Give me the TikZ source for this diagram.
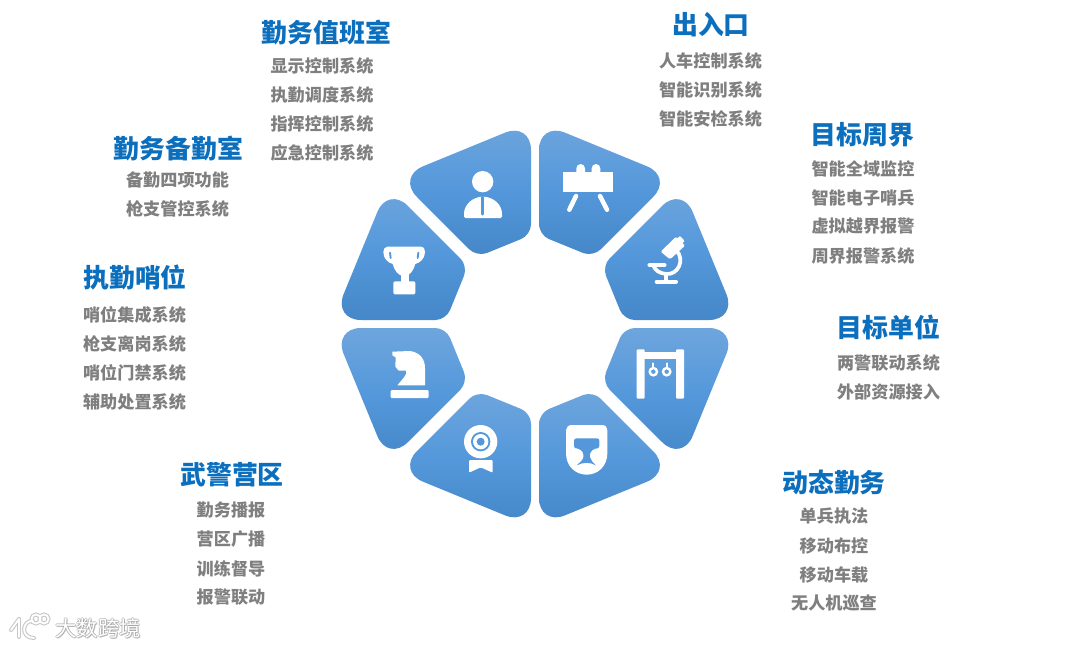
\documentclass[tikz,border=0pt]{standalone}
\usepackage{fontspec}
\usepackage{xcolor}
\setmainfont{Noto Sans CJK SC}
\usetikzlibrary{positioning,calc}
\definecolor{titleblue}{HTML}{0B6FBE}
\definecolor{itemgray}{HTML}{7F7F7F}
\definecolor{paneltop}{HTML}{6EA5DD}
\definecolor{panelmid}{HTML}{5498DB}
\definecolor{panelbot}{HTML}{4587C8}
\tikzset{
  grouptitle/.style={font=\fontsize{19.4pt}{22pt}\selectfont\bfseries, text=titleblue, inner sep=0pt},
  groupitem/.style={font=\fontsize{12.85pt}{15pt}\selectfont\bfseries, text=itemgray, inner sep=0pt},
  panelfill/.style={top color=paneltop, bottom color=panelbot, middle color=panelmid},
  iconpart/.style={fill=white, draw=none},
  iconcut/.style={fill=panelmid, draw=none},
  iconline/.style={draw=white, line cap=round, line width=3.4pt},
  zoomed/.style={x=0.25pt, y=-0.25pt},
  markfaint/.style={font=\fontsize{16pt}{18pt}\selectfont, text=black!40, inner sep=0pt, opacity=0.5},
  markfront/.style={font=\fontsize{16pt}{18pt}\selectfont, text=white, inner sep=0pt},
}
\begin{document}
\begin{tikzpicture}[x=0.75pt, y=-0.75pt]
  \useasboundingbox (0,0) rectangle (1080,647);
  \fill[white] (0,0) rectangle (1080,647);
  % eight panels round the middle
  \foreach \sx/\sy in {-1/-1, 1/-1, -1/1, 1/1} {
    \shade[panelfill] ({535+\sx*71},{324+\sy*174.5}) [rounded corners=21pt] -- ({535+\sx*4},{324+\sy*202})
      [rounded corners=8pt] -- ({535+\sx*4},{324+\sy*89}) -- ({535+\sx*58},{324+\sy*67})
      [rounded corners=21pt] -- ({535+\sx*138},{324+\sy*147}) -- cycle;
    \shade[panelfill] ({535+\sx*174.5},{324+\sy*71}) [rounded corners=21pt] -- ({535+\sx*202},{324+\sy*4})
      [rounded corners=8pt] -- ({535+\sx*89},{324+\sy*4}) -- ({535+\sx*67},{324+\sy*58})
      [rounded corners=21pt] -- ({535+\sx*147},{324+\sy*138}) -- cycle;
  }
  % person
  \begin{scope}[shift={(330,120)}, zoomed]
    \fill[iconpart] (458,185) circle (32);
    \fill[iconpart, rounded corners=1pt] (402,294) -- (402,285) arc (180:360:57 and 55) -- (516,294) -- cycle;
    \draw[panelmid, line width=2.4pt, line cap=round] (458,232) -- (458,282);
  \end{scope}
  % easel
  \begin{scope}[shift={(530,120)}, zoomed]
    \fill[iconpart] (139,160) -- (139,145) arc (180:360:13) -- (165,160) -- cycle;
    \fill[iconpart] (185,160) -- (185,145) arc (180:360:13) -- (211,160) -- cycle;
    \fill[iconpart] (100,155) rectangle (248,215);
    \draw[iconline] (138,228) -- (118,269);
    \draw[iconline] (210,228) -- (231,269);
  \end{scope}
  % microscope
  \begin{scope}[shift={(530,120)}, zoomed]
    \draw[iconline, line width=3pt] (380,485) -- (438,485);
    \draw[iconline, line width=2.4pt, line cap=butt] (408,485) -- (408,458);
    \draw[iconline, line width=2.8pt, line cap=butt] (440,392) .. controls (465,420) and (445,465) .. (408,462)
      .. controls (390,460) and (375,452) .. (370,436);
    \draw[iconline, line width=2.8pt] (358,435) -- (404,435);
    \fill[iconpart, rounded corners=1pt] (392,395) -- (438,350) -- (465,377) -- (420,418) -- cycle;
    \fill[iconpart, rounded corners=0.5pt] (436,360) -- (450,348) -- (464,363) -- (452,374) -- cycle;
  \end{scope}
  % rings
  \begin{scope}[shift={(530,320)}, zoomed]
    \fill[iconpart, rounded corners=0.8pt] (320,88) rectangle (344,236);
    \fill[iconpart, rounded corners=0.8pt] (438,88) rectangle (462,236);
    \fill[iconpart] (330,96) rectangle (450,118);
    \draw[iconline, line width=1.8pt] (370,155) circle (11);
    \draw[iconline, line width=1.8pt] (410,155) circle (11);
    \draw[iconline, line width=1.4pt] (370,130) -- (370,142);
    \draw[iconline, line width=1.4pt] (410,130) -- (410,142);
  \end{scope}
  % helmet
  \begin{scope}[shift={(530,320)}, zoomed]
    \fill[iconpart] (126,315) -- (216,315) .. controls (226,315) and (232,321) .. (232,330) -- (232,400)
      .. controls (232,438) and (204,464) .. (170,464) .. controls (136,464) and (108,438) .. (108,400)
      -- (108,330) .. controls (108,321) and (116,315) .. (126,315) -- cycle;
    \fill[iconcut] (140,355) -- (200,355) .. controls (206,355) and (208,358) .. (208,363) -- (208,378)
      .. controls (208,384) and (204,386) .. (196,386) .. controls (182,390) and (178,402) .. (180,412)
      .. controls (182,422) and (190,428) .. (198,436) .. controls (180,426) and (160,426) .. (140,436)
      .. controls (148,428) and (158,422) .. (160,412) .. controls (162,402) and (158,390) .. (144,386)
      .. controls (136,386) and (132,384) .. (132,378) -- (132,363) .. controls (132,358) and (134,355) .. (140,355) -- cycle;
  \end{scope}
  % camera
  \begin{scope}[shift={(330,320)}, zoomed]
    \fill[iconpart] (452,365) circle (50);
    \fill[iconcut] (452,365) circle (29);
    \fill[iconpart] (452,365) circle (23);
    \fill[iconcut] (452,365) circle (12);
    \fill[iconpart, rounded corners=0.8pt] (417,420) -- (488,420) -- (488,458) -- (452,442) -- (417,458) -- cycle;
  \end{scope}
  % knight
  \begin{scope}[shift={(330,320)}, zoomed]
    \fill[iconpart, rounded corners=0.8pt] (182,210) rectangle (296,234);
    \fill[iconpart] (187,95) -- (240,93) .. controls (268,97) and (285,115) .. (285,145) -- (285,196)
      -- (202,196) -- (222,172) .. controls (228,165) and (230,160) .. (228,152) -- (206,152)
      -- (196,140) -- (197,112) -- (187,106) -- cycle;
  \end{scope}
  % trophy
  \begin{scope}[shift={(330,120)}, zoomed]
    \fill[iconpart, rounded corners=1pt] (190,484) rectangle (256,523);
    \fill[iconpart] (213,462) rectangle (236,486);
    \fill[iconpart] (172,380) -- (272,380) .. controls (282,380) and (285,388) .. (285,396)
      .. controls (285,416) and (270,428) .. (256,432) .. controls (250,452) and (240,468) .. (222,468)
      .. controls (204,468) and (194,452) .. (188,432) .. controls (174,428) and (160,416) .. (160,396)
      .. controls (160,388) and (164,380) .. (172,380) -- cycle;
    \draw[panelmid, line width=1.4pt, line cap=round] (180,398) -- (182,414);
    \draw[panelmid, line width=1.4pt, line cap=round] (265,398) -- (263,414);
  \end{scope}
  % text groups
  \node[grouptitle] (duty) at (326.5,32.5) {勤务值班室};
  \foreach \i/\y/\t in {a/65.5/显示控制系统, b/94.5/执勤调度系统, c/123.5/指挥控制系统, d/152.5/应急控制系统}
    \node[groupitem] (duty\i) at (322,\y) {\t};
  \node[grouptitle] (standby) at (178.5,148.5) {勤务备勤室};
  \foreach \i/\y/\t in {a/179.5/备勤四项功能, b/208.5/枪支管控系统}
    \node[groupitem] (standby\i) at (177.5,\y) {\t};
  \node[grouptitle] (post) at (135,277.5) {执勤哨位};
  \foreach \i/\y/\t in {a/314.5/哨位集成系统, b/343.5/枪支离岗系统, c/372.5/哨位门禁系统, d/401.5/辅助处置系统}
    \node[groupitem] (post\i) at (134.5,\y) {\t};
  \node[grouptitle] (camp) at (232,474.5) {武警营区};
  \foreach \i/\y/\t in {a/510.5/勤务播报, b/539.5/营区广播, c/568.5/训练督导, d/597.5/报警联动}
    \node[groupitem] (camp\i) at (231,\y) {\t};
  \node[grouptitle] (gate) at (711,24.5) {出入口};
  \foreach \i/\y/\t in {a/60.5/人车控制系统, b/89.5/智能识别系统, c/118.5/智能安检系统}
    \node[groupitem] (gate\i) at (710.5,\y) {\t};
  \node[grouptitle] (fence) at (862.5,134.5) {目标周界};
  \foreach \i/\y/\t in {a/168.5/智能全域监控, b/197.5/智能电子哨兵, c/226.5/虚拟越界报警, d/255.5/周界报警系统}
    \node[groupitem] (fence\i) at (863,\y) {\t};
  \node[grouptitle] (unit) at (888.5,327.5) {目标单位};
  \foreach \i/\y/\t in {a/362.5/两警联动系统, b/391.5/外部资源接入}
    \node[groupitem] (unit\i) at (888.5,\y) {\t};
  \node[grouptitle] (move) at (834,482.5) {动态勤务};
  \foreach \i/\y/\t in {a/516.5/单兵执法, b/545.5/移动布控, c/574.5/移动车载, d/603.5/无人机巡查}
    \node[groupitem] (move\i) at (834,\y) {\t};
  % watermark
  \foreach \dx/\dy in {-1/0, 1/0, 0/-1, 0/1, 1/1}
    \node[markfaint] at (98+\dx,628+\dy) {大数跨境};
  \node[markfront] (mark) at (98,628) {大数跨境};
  \foreach \lw/\c in {3pt/black!22, 1.4pt/white} {
    \draw[line width=\lw, draw=\c, line cap=round] (11,630) -- (19,619);
    \draw[line width=\lw, draw=\c, line cap=round] (19,619) -- (19,637);
    \draw[line width=\lw, draw=\c, line cap=round] (33,621) .. controls (22,620) and (20,638) .. (34,638);
    \draw[line width=\lw, draw=\c] (36,619) circle (4.5);
    \draw[line width=\lw, draw=\c] (44,619) circle (4.5);
  }
\end{tikzpicture}
\end{document}
